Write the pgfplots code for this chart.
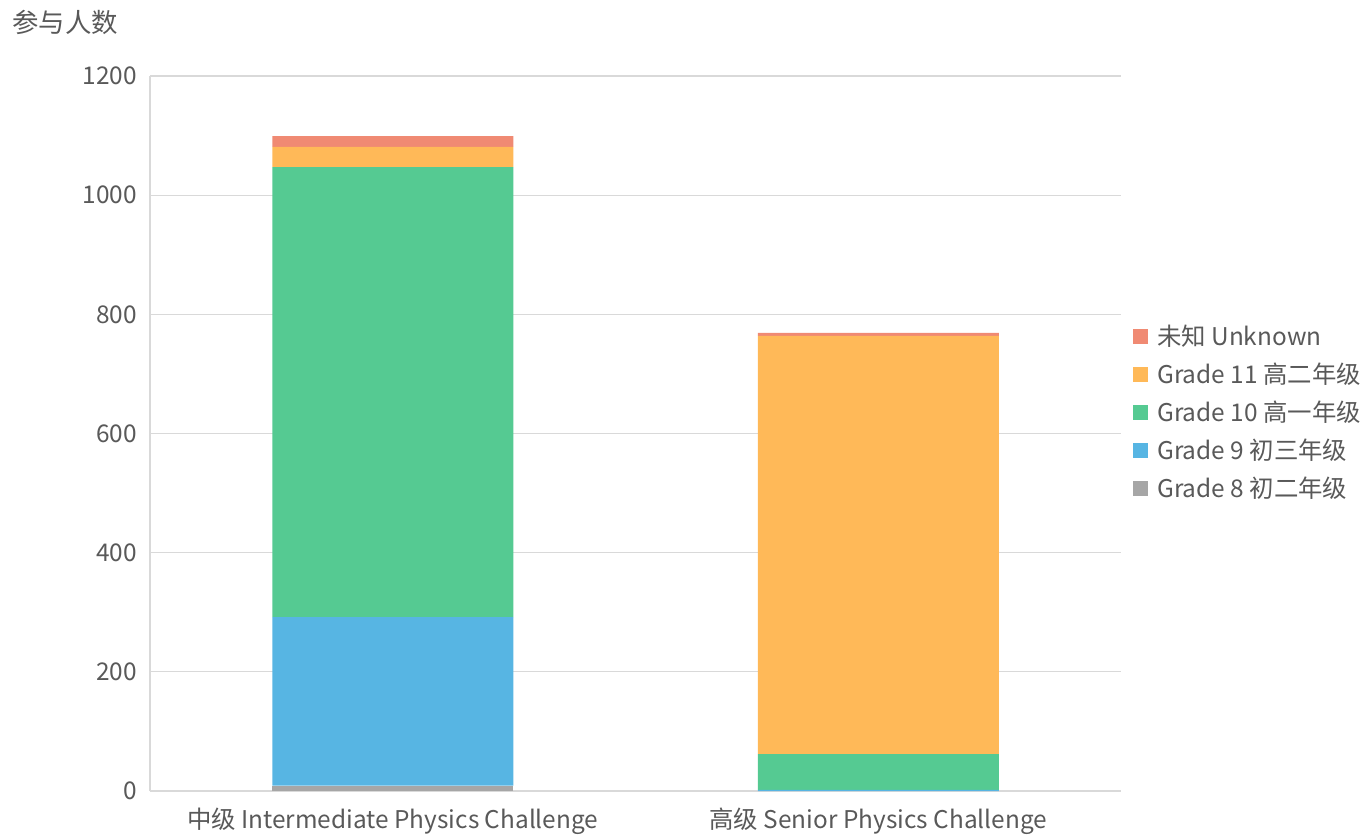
\documentclass[border=0pt]{standalone}
\usepackage{pgfplots}
\pgfplotsset{compat=1.18}
\usepackage{fontspec}
\setmainfont{Noto Sans CJK SC}
\definecolor{cUnk}{RGB}{240,138,115}
\definecolor{cG11}{RGB}{255,185,88}
\definecolor{cG10}{RGB}{85,202,146}
\definecolor{cG9}{RGB}{87,181,227}
\definecolor{cG8}{RGB}{166,166,166}
\definecolor{gridc}{RGB}{217,217,217}
\definecolor{textc}{RGB}{89,89,89}
\begin{document}
\begin{tikzpicture}
\path[use as bounding box] (0,0) rectangle (681.5pt,418.5pt);
\node[anchor=west, text=textc, font=\fontsize{13.2}{15}\selectfont, inner sep=0pt] at (6pt,407.5pt) {参与人数};
\begin{axis}[
  at={(75pt,23pt)}, anchor=south west,
  scale only axis, width=485.5pt, height=357.5pt,
  ybar stacked, bar width=120.5pt,
  xmin=-0.5, xmax=1.5, ymin=0, ymax=1200,
  xtick={0,1},
  xticklabels={中级 Intermediate Physics Challenge, 高级 Senior Physics Challenge},
  ytick={0,200,400,600,800,1000,1200},
  ymajorgrids, grid style={draw=gridc, line width=0.6pt},
  axis x line*=bottom, axis y line*=left,
  axis line style={draw=gridc, line width=0.6pt},
  x axis line style={line width=1.2pt},
  major tick length=0pt,
  tick label style={font=\fontsize{12.2}{14}\selectfont, text=textc},
  yticklabel style={xshift=-3pt},
  xticklabel style={yshift=-5pt},
  /pgf/number format/assume math mode=true,
  /pgf/number format/1000 sep={},
  reverse legend,
  legend cell align=left,
  legend style={at={(1.006,0.529)}, anchor=west, draw=none, fill=none,
    font=\fontsize{12.2}{14}\selectfont, text=textc, row sep=3.2pt},
  legend image code/.code={\fill[#1] (0pt,-3.75pt) rectangle (7.5pt,3.75pt); \path (10pt,0pt);},
]
\addplot[fill=cG8, draw=none] coordinates {(0,9) (1,0)};
\addplot[fill=cG9, draw=none] coordinates {(0,283) (1,2)};
\addplot[fill=cG10, draw=none] coordinates {(0,755) (1,60)};
\addplot[fill=cG11, draw=none] coordinates {(0,34) (1,702)};
\addplot[fill=cUnk, draw=none] coordinates {(0,18) (1,5)};
\legend{Grade 8 初二年级, Grade 9 初三年级, Grade 10 高一年级, Grade 11 高二年级, 未知 Unknown}
\end{axis}
\end{tikzpicture}
\end{document}
